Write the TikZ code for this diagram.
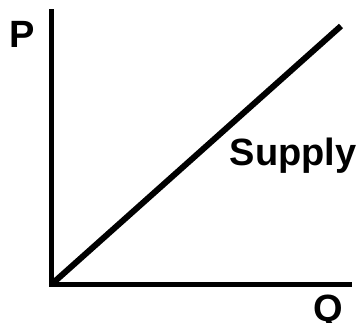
\documentclass[tikz,border=0pt]{standalone}
\usepackage{fontspec}
\setmainfont{Liberation Sans}
\begin{document}
\begin{tikzpicture}[x=1pt,y=-1pt,
  axis/.style={line width=5pt,line cap=butt,line join=miter},
  curve/.style={line width=6pt,line cap=butt},
  lbl/.style={font=\fontsize{38}{40}\selectfont\bfseries,inner sep=0pt,anchor=base}]
\useasboundingbox (0,0) rectangle (359,322);
\coordinate (ytop) at (51.5,9);
\coordinate (origin) at (51.5,284.5);
\coordinate (xend) at (352,284.5);
\coordinate (sstart) at (53,283);
\coordinate (send) at (341,26);
\draw[axis] (ytop) -- (origin) -- (xend);
\draw[curve] (sstart) -- (send);
\node[lbl] (P) at (22.5,47) {P};
\node[lbl] (Q) at (328.5,321) {Q};
\node[lbl] (S) at (293,165) {Supply};
\end{tikzpicture}
\end{document}
